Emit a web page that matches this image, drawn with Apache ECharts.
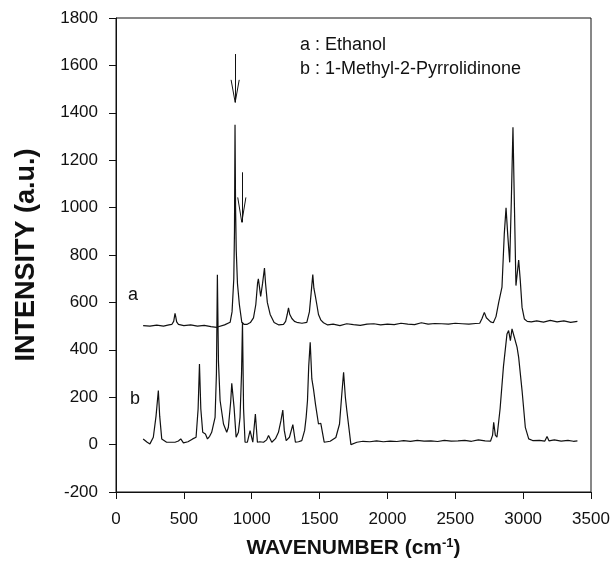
<!DOCTYPE html>
<html>
<head>
<meta charset="utf-8">
<script src="https://cdn.jsdelivr.net/npm/echarts@6/dist/echarts.min.js"></script>
<style>
html,body{margin:0;padding:0;background:#fff;}
#chart{width:615px;height:575px;}
</style>
</head>
<body>
<div id="chart"></div>
<script>
// Curve a : Ethanol (offset spectrum)
const waveA = [200,250,300,350,390,411,425,431,435,440,447,460,500,550,600,650,700,742,800,841,855,868,873,877,881,886,895,909,927,945,964,990,1013,1030,1043,1049,1056,1066,1071,1080,1094,1102,1115,1136,1165,1200,1234,1250,1262,1271,1280,1296,1315,1332,1370,1406,1425,1438,1450,1458,1468,1480,1492,1510,1529,1560,1600,1650,1700,1750,1800,1850,1900,1950,2000,2050,2100,2150,2200,2250,2300,2350,2400,2450,2500,2550,2600,2650,2680,2697,2714,2729,2743,2760,2780,2800,2820,2844,2861,2874,2886,2901,2913,2925,2935,2947,2967,2979,2992,3009,3030,3060,3100,3150,3200,3250,3300,3350,3400];
const intensityA = [502,500,504,500,505,507,520,540,554,540,518,507,502,505,500,503,498,495,505,516,560,700,900,1350,1000,820,680,591,516,507,507,515,535,590,680,699,670,625,621,680,745,680,600,549,515,505,507,520,550,577,550,532,520,516,512,516,560,640,717,660,630,590,549,525,514,505,508,502,510,506,503,508,510,505,508,506,512,508,506,514,508,511,510,508,512,510,508,511,512,532,558,535,532,518,514,540,600,664,889,999,889,769,1030,1339,1030,671,779,692,579,530,520,518,522,517,524,518,522,516,520];

// Curve b : 1-Methyl-2-Pyrrolidinone
const waveB = [200,230,250,275,295,312,322,337,373,435,460,477,497,530,565,590,605,615,625,639,659,674,690,705,730,740,747,755,767,792,816,828,845,853,870,885,902,914,925,932,940,951,968,988,1008,1027,1042,1060,1087,1110,1124,1148,1175,1197,1215,1229,1240,1254,1278,1303,1322,1345,1369,1390,1401,1411,1420,1431,1443,1455,1470,1492,1509,1534,1578,1620,1647,1662,1677,1690,1701,1731,1775,1820,1870,1920,1970,2020,2070,2120,2170,2220,2270,2320,2370,2420,2470,2520,2570,2620,2670,2720,2760,2775,2783,2795,2807,2830,2855,2881,2893,2906,2918,2935,2955,2967,2992,3016,3041,3070,3120,3160,3176,3190,3230,3280,3330,3370,3400];
const intensityB = [24,10,3,31,120,228,120,24,10,10,15,24,7,12,24,31,150,340,150,52,45,24,35,52,115,300,717,350,186,87,52,73,180,259,157,31,52,115,300,516,150,10,10,59,10,129,10,12,10,20,38,10,25,52,100,146,60,17,31,84,10,12,17,60,115,186,330,432,277,235,170,87,90,10,14,30,87,200,305,200,143,0,10,14,12,16,12,15,13,17,14,18,15,16,13,18,15,16,18,14,20,16,15,40,94,40,31,150,330,467,481,439,488,453,411,368,228,73,24,17,18,15,34,16,20,15,18,14,16];

// Axis ticks
const xTicks = {min: 0, max: 3500, interval: 500};
const yTicks = {min: -200, max: 1800, interval: 200};

// Annotation arrows (data units): x, shaft top, tip, half head width, head height
const arrows = [
  {x: 878, top: 1648, tip: 1444, hw: 30, hh: 95},
  {x: 927, top: 1149, tip: 938, hw: 30, hh: 105}
];

const legendLines = ['a : Ethanol', 'b : 1-Methyl-2-Pyrrolidinone'];
const curveTags = ['a', 'b'];

function pairs(xs, ys) { return xs.map((x, i) => [x, ys[i]]); }

const arrowSegs = [];
arrows.forEach(a => {
  arrowSegs.push([{coord: [a.x, a.top]}, {coord: [a.x, a.tip]}]);
  arrowSegs.push([{coord: [a.x - a.hw, a.tip + a.hh]}, {coord: [a.x, a.tip]}]);
  arrowSegs.push([{coord: [a.x + a.hw, a.tip + a.hh]}, {coord: [a.x, a.tip]}]);
});

const FONT = '"Liberation Sans", Arial, sans-serif';
const chart = echarts.init(document.getElementById('chart'), null, {renderer: 'canvas'});
chart.setOption({
  animation: false,
  backgroundColor: '#fff',
  grid: {left: 116, right: 24, top: 18, bottom: 83, show: true, borderColor: '#111', borderWidth: 1},
  xAxis: {
    type: 'value', min: xTicks.min, max: xTicks.max, interval: xTicks.interval,
    name: 'WAVENUMBER (cm{sup|-1})', nameLocation: 'middle', nameGap: 45,
    nameTextStyle: {fontFamily: FONT, fontSize: 21, fontWeight: 'bold', color: '#111',
      rich: {sup: {fontFamily: FONT, fontSize: 13, fontWeight: 'bold', color: '#111', verticalAlign: 'top', padding: [0,0,10,0]}}},
    axisLine: {onZero: false, lineStyle: {color: '#111', width: 1}},
    axisTick: {show: true, inside: false, length: 7, lineStyle: {color: '#111'}},
    axisLabel: {fontFamily: FONT, fontSize: 17, color: '#111', margin: 19, formatter: v => String(v)},
    splitLine: {show: false}
  },
  yAxis: {
    type: 'value', min: yTicks.min, max: yTicks.max, interval: yTicks.interval,
    name: 'INTENSITY (a.u.)', nameLocation: 'middle', nameGap: 76, nameRotate: 90,
    nameTextStyle: {fontFamily: FONT, fontSize: 27, fontWeight: 'bold', color: '#111'},
    axisLine: {show: true, onZero: false, lineStyle: {color: '#111', width: 1}},
    axisTick: {show: true, inside: false, length: 7, lineStyle: {color: '#111'}},
    axisLabel: {fontFamily: FONT, fontSize: 17, color: '#111', margin: 18, formatter: v => String(v)},
    splitLine: {show: false}
  },
  series: [
    {
      name: 'Ethanol', type: 'line', data: pairs(waveA, intensityA),
      showSymbol: false, symbol: 'none',
      lineStyle: {color: '#111', width: 1.2},
      markLine: {
        silent: true, symbol: ['none', 'none'], label: {show: false},
        lineStyle: {color: '#111', width: 1, type: 'solid'},
        data: arrowSegs
      }
    },
    {
      name: '1-Methyl-2-Pyrrolidinone', type: 'line', data: pairs(waveB, intensityB),
      showSymbol: false, symbol: 'none',
      lineStyle: {color: '#111', width: 1.2}
    }
  ],
  graphic: [
    {type: 'text', left: 300, top: 36, style: {text: legendLines[0], font: '18px ' + FONT, fill: '#111'}},
    {type: 'text', left: 300, top: 60, style: {text: legendLines[1], font: '18px ' + FONT, fill: '#111'}},
    {type: 'text', left: 128, top: 286, style: {text: curveTags[0], font: '18px ' + FONT, fill: '#111'}},
    {type: 'text', left: 130, top: 390, style: {text: curveTags[1], font: '18px ' + FONT, fill: '#111'}}
  ]
});
</script>
</body>
</html>
